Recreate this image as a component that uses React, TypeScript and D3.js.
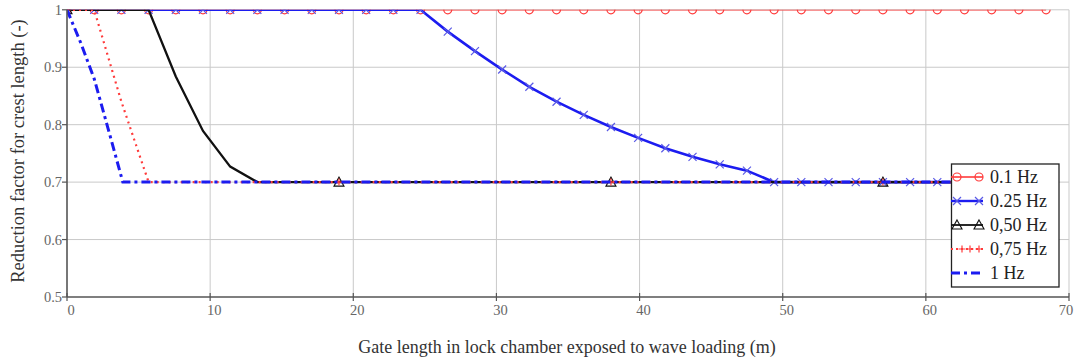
import React from "react";
import * as d3 from "d3";

// Gate length (m) sample points
const gateLength = [
  0, 1.9, 3.8, 5.7, 7.6, 9.5, 11.4, 13.3, 15.2, 17.1, 19, 20.9, 22.8, 24.7, 26.6, 28.5,
  30.4, 32.3, 34.2, 36.1, 38, 39.9, 41.8, 43.7, 45.6, 47.5, 49.4, 51.3, 53.2, 55.1, 57,
  58.9, 60.8, 62.7, 64.6, 66.5, 68.4,
];

const hz010 = [
  1, 1, 1, 1, 1, 1, 1, 1, 1, 1, 1, 1, 1, 1, 1, 1, 1, 1, 1, 1, 1, 1, 1, 1, 1, 1, 1, 1, 1, 1, 1,
  1, 1, 1, 1, 1, 1,
];
const hz025 = [
  1, 1, 1, 1, 1, 1, 1, 1, 1, 1, 1, 1, 1, 1, 0.962, 0.928, 0.896, 0.866, 0.84, 0.817, 0.796,
  0.777, 0.759, 0.744, 0.731, 0.72, 0.7, 0.7, 0.7, 0.7, 0.7, 0.7, 0.7, 0.7, 0.7, 0.7, 0.7,
];
const hz050 = [
  1, 1, 1, 1, 0.884, 0.789, 0.727, 0.7, 0.7, 0.7, 0.7, 0.7, 0.7, 0.7, 0.7, 0.7, 0.7, 0.7, 0.7,
  0.7, 0.7, 0.7, 0.7, 0.7, 0.7, 0.7, 0.7, 0.7, 0.7, 0.7, 0.7, 0.7, 0.7, 0.7, 0.7, 0.7, 0.7,
];
const hz075 = [
  1, 1, 0.84, 0.7, 0.7, 0.7, 0.7, 0.7, 0.7, 0.7, 0.7, 0.7, 0.7, 0.7, 0.7, 0.7, 0.7, 0.7, 0.7,
  0.7, 0.7, 0.7, 0.7, 0.7, 0.7, 0.7, 0.7, 0.7, 0.7, 0.7, 0.7, 0.7, 0.7, 0.7, 0.7, 0.7, 0.7,
];
// 1 Hz has its own finer breakpoints
const hz100X = [0, 0.95, 1.9, 2.85, 3.9, 20, 40, 68.4];
const hz100 = [1, 0.943, 0.88, 0.795, 0.7, 0.7, 0.7, 0.7];

// Sparse markers (every 10th sample) for 0.50 Hz and 0.75 Hz
const sparseMarkerIdx = [0, 10, 20, 30];

const xTicks = [0, 10, 20, 30, 40, 50, 60, 70];
const yTicks = [0.5, 0.6, 0.7, 0.8, 0.9, 1];
const yTickLabels = ["0.5", "0.6", "0.7", "0.8", "0.9", "1"];

const legendLabels = ["0.1 Hz", "0.25 Hz", "0,50 Hz", "0,75 Hz", "1 Hz"];

const RED = "#ff3b3b";
const BLUE = "#1c1cf0";
const XBLUE = "#5a5ae6";
const BLACK = "#111";

const L = 67, R = 1069, T = 9.8, B = 297;
const FONT = "'Liberation Serif', 'Times New Roman', serif";

function Circle({ x, y }: { x: number; y: number }) {
  return <circle cx={x} cy={y} r={4} fill="none" stroke={RED} strokeWidth={1.2} />;
}
function XMark({ x, y }: { x: number; y: number }) {
  const s = 4;
  return (
    <path
      d={`M${x - s},${y - s}L${x + s},${y + s}M${x - s},${y + s}L${x + s},${y - s}`}
      stroke={XBLUE}
      strokeWidth={1.2}
      fill="none"
    />
  );
}
function Tri({ x, y }: { x: number; y: number }) {
  return (
    <path
      d={`M${x},${y - 5}L${x + 5},${y + 4}L${x - 5},${y + 4}Z`}
      stroke={BLACK}
      strokeWidth={1.1}
      fill="none"
    />
  );
}
function Plus({ x, y }: { x: number; y: number }) {
  const s = 3.5;
  return (
    <path
      d={`M${x - s},${y}L${x + s},${y}M${x},${y - s}L${x},${y + s}`}
      stroke={RED}
      strokeWidth={1.2}
      fill="none"
    />
  );
}

export default function App() {
  const x = d3.scaleLinear().domain([0, 70]).range([L, R]);
  const y = d3.scaleLinear().domain([0.5, 1]).range([B, T]);

  const mk = (xs: number[], ys: number[]) =>
    d3
      .line<number>()
      .x((_, i) => x(xs[i]))
      .y((v) => y(v))(ys) as string;

  const legendY = [177, 201, 225, 249, 273];
  const lx0 = 951, lx1 = 983;

  return (
    <svg width={1078} height={362} style={{ position: "absolute", left: 0, top: 0, background: "#fff" }}>
      <defs>
        <clipPath id="plotclip">
          <rect x={L} y={T} width={R - L} height={B - T} />
        </clipPath>
      </defs>
      <rect x={0} y={0} width={1078} height={362} fill="#fff" />
      {/* grid */}
      {xTicks.filter((t) => t > 0).map((t) => (
        <line key={"gx" + t} x1={x(t)} x2={x(t)} y1={T} y2={B} stroke="#c9c9c9" strokeWidth={1} />
      ))}
      {yTicks.filter((t) => t > 0.5).map((t) => (
        <line key={"gy" + t} x1={L} x2={R} y1={y(t)} y2={y(t)} stroke="#c9c9c9" strokeWidth={1} />
      ))}

      {/* data */}
      <g clipPath="url(#plotclip)">
        <path d={mk(gateLength, hz010)} fill="none" stroke={RED} strokeWidth={1.6} />
        {gateLength.map((g, i) => (
          <Circle key={"c" + i} x={x(g)} y={y(hz010[i])} />
        ))}
        <path d={mk(gateLength, hz025)} fill="none" stroke={BLUE} strokeWidth={2.6} />
        {gateLength.map((g, i) => (
          <XMark key={"x" + i} x={x(g)} y={y(hz025[i])} />
        ))}
        <path d={mk(gateLength, hz050)} fill="none" stroke={BLACK} strokeWidth={2.3} />
        {sparseMarkerIdx.map((i) => (
          <Tri key={"t" + i} x={x(gateLength[i])} y={y(hz050[i])} />
        ))}
        <path
          d={mk(gateLength, hz075)}
          fill="none"
          stroke={RED}
          strokeWidth={2.2}
          strokeDasharray="2,4"
        />
        {sparseMarkerIdx.map((i) => (
          <Plus key={"p" + i} x={x(gateLength[i])} y={y(hz075[i])} />
        ))}
        <path
          d={mk(hz100X, hz100)}
          fill="none"
          stroke={BLUE}
          strokeWidth={3}
          strokeDasharray="9,4,3,4"
        />
      </g>

      {/* axes */}
      <line x1={L} x2={L} y1={T} y2={B} stroke="#555" strokeWidth={1.6} />
      <line x1={L} x2={R} y1={B} y2={B} stroke="#555" strokeWidth={1.6} />
      {yTicks.map((t) => (
        <line key={"ty" + t} x1={L - 5} x2={L} y1={y(t)} y2={y(t)} stroke="#555" strokeWidth={1.2} />
      ))}
      {xTicks.map((t) => (
        <line key={"tx" + t} x1={x(t)} x2={x(t)} y1={B - 4} y2={B + 4} stroke="#555" strokeWidth={1.2} />
      ))}
      {yTicks.map((t, i) => (
        <text
          key={"ly" + t}
          x={L - 5}
          y={y(t) + 5}
          textAnchor="end"
          fontFamily={FONT}
          fontSize={14.5}
          fill="#666"
        >
          {yTickLabels[i]}
        </text>
      ))}
      {xTicks.map((t) => (
        <text
          key={"lx" + t}
          x={Math.min(x(t) + 4, 1066)}
          y={B + 18}
          textAnchor="middle"
          fontFamily={FONT}
          fontSize={14.5}
          fill="#666"
        >
          {t}
        </text>
      ))}

      {/* axis titles */}
      <text x={567} y={353} textAnchor="middle" fontFamily={FONT} fontSize={18} fill="#333">
        Gate length in lock chamber exposed to wave loading (m)
      </text>
      <text
        transform={`translate(24,151) rotate(-90)`}
        textAnchor="middle"
        fontFamily={FONT}
        fontSize={18.5}
        fill="#333"
      >
        Reduction factor for crest length (-)
      </text>

      {/* legend */}
      <rect x={951.5} y={164} width={107.5} height={123} fill="#fff" stroke="#222" strokeWidth={1.3} />
      <line x1={lx0} x2={lx1} y1={legendY[0]} y2={legendY[0]} stroke={RED} strokeWidth={1.6} />
      <Circle x={957} y={legendY[0]} />
      <Circle x={979} y={legendY[0]} />
      <line x1={lx0} x2={lx1} y1={legendY[1]} y2={legendY[1]} stroke={BLUE} strokeWidth={2.4} />
      <XMark x={957} y={legendY[1]} />
      <XMark x={979} y={legendY[1]} />
      <line x1={lx0} x2={lx1} y1={legendY[2]} y2={legendY[2]} stroke={BLACK} strokeWidth={1.8} />
      <Tri x={957} y={legendY[2]} />
      <Tri x={979} y={legendY[2]} />
      <line
        x1={lx0}
        x2={lx1}
        y1={legendY[3]}
        y2={legendY[3]}
        stroke={RED}
        strokeWidth={2}
        strokeDasharray="2,3"
      />
      <Plus x={962} y={legendY[3]} />
      <Plus x={970} y={legendY[3]} />
      <Plus x={979} y={legendY[3]} />
      <line
        x1={lx0}
        x2={lx1}
        y1={legendY[4]}
        y2={legendY[4]}
        stroke={BLUE}
        strokeWidth={3}
        strokeDasharray="9,4,3,4"
      />
      {legendLabels.map((lab, i) => (
        <text
          key={lab}
          x={990}
          y={legendY[i] + 6}
          fontFamily={FONT}
          fontSize={18}
          fill="#222"
        >
          {lab}
        </text>
      ))}
    </svg>
  );
}
